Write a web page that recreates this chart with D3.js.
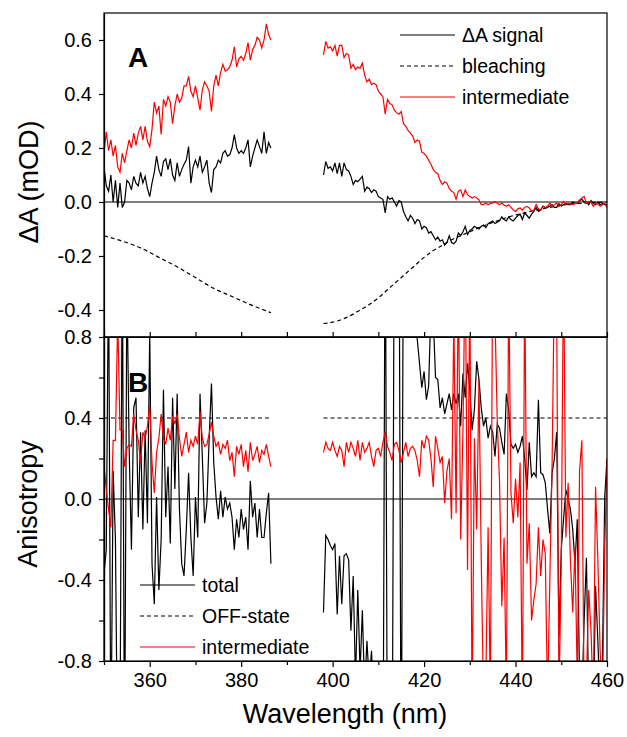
<!DOCTYPE html>
<html lang="en">
<head>
  <meta charset="UTF-8">
  <title>Delta A and anisotropy spectra</title>
  <style>
    body { margin: 0; background: #fff; }
    text { font-family: Arial, "Liberation Sans", sans-serif; }
  </style>
</head>
<body>

  <svg id="svg" width="627" height="737"></svg>

  <script src="https://d3js.org/d3.v7.min.js"></script>
  <script>
    // wavelength grid of the measured spectra (nm)
    const step = 0.5
    const seg1Start = 350   // blue part, 350 - 386.5
    const seg2Start = 398   // red part, 398 - 460

    // panel A: delta A signal (mOD)
    const topBlack1 = [0.13,0.06,0.04,0.10,0.00,0.08,-0.02,0.07,-0.02,0.00,
      0.08,0.07,0.045,0.095,0.07,0.06,0.11,0.07,0.095,0.05,
      0.02,0.07,0.11,0.17,0.12,0.095,0.15,0.16,0.12,0.16,
      0.10,0.08,0.145,0.095,0.12,0.14,0.155,0.205,0.07,0.13,
      0.155,0.13,0.17,0.11,0.13,0.155,0.07,0.035,0.12,0.13,
      0.155,0.145,0.18,0.19,0.17,0.175,0.2,0.25,0.2,0.18,
      0.19,0.18,0.2,0.23,0.13,0.17,0.2,0.23,0.205,0.18,
      0.26,0.18,0.22,0.20]
    const topBlack2 = [0.10,0.15,0.125,0.13,0.115,0.145,0.105,0.145,0.095,0.145,
      0.12,0.115,0.095,0.065,0.08,0.075,0.085,0.095,0.04,0.055,
      0.05,0.035,0.045,0.04,0.02,0.015,0.01,-0.04,0.02,0.01,
      0.015,0.0,-0.015,0.005,0.0,-0.035,-0.055,-0.07,-0.05,-0.06,
      -0.08,-0.065,-0.07,-0.10,-0.09,-0.095,-0.115,-0.11,-0.125,-0.14,
      -0.13,-0.145,-0.14,-0.16,-0.15,-0.125,-0.15,-0.155,-0.145,-0.115,
      -0.125,-0.11,-0.09,-0.12,-0.105,-0.10,-0.09,-0.095,-0.10,-0.09,
      -0.085,-0.095,-0.08,-0.075,-0.07,-0.08,-0.075,-0.07,-0.055,-0.065,
      -0.07,-0.055,-0.065,-0.07,-0.06,-0.05,-0.045,-0.065,-0.04,-0.05,
      -0.06,-0.045,-0.035,-0.02,-0.035,-0.03,-0.015,-0.02,-0.02,-0.015,
      -0.01,-0.02,-0.02,-0.006,-0.015,-0.01,-0.005,-0.01,-0.01,0.0,
      -0.005,-0.005,0.005,0.01,0.0,0.0,-0.01,0.005,-0.005,-0.01,
      0.0,-0.01,-0.005,-0.01,-0.01]
    const topRed1 = [0.18,0.26,0.19,0.23,0.17,0.21,0.13,0.11,0.18,0.145,
      0.19,0.23,0.20,0.255,0.21,0.255,0.28,0.23,0.28,0.225,
      0.205,0.27,0.37,0.33,0.355,0.25,0.38,0.355,0.39,0.37,
      0.29,0.355,0.40,0.37,0.385,0.43,0.43,0.465,0.41,0.39,
      0.43,0.385,0.34,0.415,0.445,0.43,0.41,0.335,0.43,0.47,
      0.43,0.48,0.51,0.485,0.49,0.50,0.525,0.575,0.50,0.53,
      0.54,0.525,0.55,0.59,0.525,0.565,0.58,0.61,0.60,0.57,
      0.60,0.66,0.62,0.60]
    const topRed2 = [0.545,0.595,0.57,0.575,0.56,0.58,0.54,0.58,0.58,0.535,
      0.55,0.545,0.495,0.51,0.49,0.50,0.495,0.515,0.47,0.445,
      0.455,0.435,0.44,0.435,0.41,0.40,0.39,0.325,0.38,0.365,
      0.36,0.34,0.33,0.325,0.335,0.29,0.28,0.265,0.255,0.245,
      0.22,0.23,0.225,0.185,0.18,0.17,0.155,0.14,0.12,0.11,
      0.105,0.08,0.065,0.075,0.07,0.05,0.04,0.035,0.01,0.04,
      0.045,0.02,0.045,0.027,0.02,0.015,0.02,0.015,0.008,-0.01,
      -0.01,-0.004,-0.01,-0.005,-0.004,0.002,-0.005,-0.01,-0.004,-0.012,
      -0.016,-0.01,-0.02,-0.03,-0.035,-0.025,-0.022,-0.03,-0.02,-0.016,
      -0.022,-0.035,-0.03,-0.01,-0.025,-0.03,-0.016,-0.022,-0.015,-0.004,
      -0.016,-0.01,-0.004,-0.016,-0.01,0.002,-0.01,-0.004,-0.008,-0.01,
      -0.006,-0.004,0.008,0.015,0.02,-0.004,0.002,0.0,-0.016,-0.004,
      -0.008,-0.016,-0.01,-0.004,-0.022]
    const bleachWl1 = [350, 354, 358, 362, 366, 370, 374, 378, 382, 386.5]
    const bleach1 = [-0.125, -0.145, -0.17, -0.205, -0.24, -0.28, -0.32, -0.35, -0.38, -0.41]
    const bleachWl2 = [398, 400, 402, 404, 406, 408, 410, 412, 414, 416, 418, 420, 422, 424, 426,
      428, 430, 432, 434, 436, 438, 440, 442, 444, 446, 448, 450, 452, 455, 460]
    const bleach2 = [-0.45, -0.445, -0.435, -0.42, -0.40, -0.38, -0.355, -0.325, -0.295, -0.265,
      -0.235, -0.205, -0.18, -0.16, -0.14, -0.125, -0.11, -0.095, -0.082, -0.07,
      -0.058, -0.048, -0.04, -0.032, -0.025, -0.018, -0.012, -0.008, -0.004, 0.0]

    // panel B: anisotropy
    const botBlack1 = [-0.37,-0.25,1.2,-1.3,0.14,-0.2,-1.4,-1.2,1.3,-1.4,
      1.1,0.25,-0.25,0.45,0.5,-0.09,0.33,-0.15,0.34,-0.12,
      0.83,-0.32,-0.52,0.01,-0.45,-0.2,0.54,-0.09,0.16,-0.22,
      0.5,0.05,0.52,-0.05,-0.32,-0.38,-0.15,0.13,-0.19,-0.38,
      0.01,-0.19,0.52,0.21,-0.12,-0.02,0.3,0.57,0.18,0.01,
      -0.1,0.04,-0.09,0.01,-0.05,-0.02,-0.09,-0.25,-0.1,-0.19,
      -0.05,-0.15,-0.09,-0.25,0.09,-0.09,-0.02,-0.19,-0.05,-0.19,
      -0.19,-0.07,0.03,-0.32]
    const botBlack2 = [-0.56,-0.18,-0.20,-0.23,-0.25,-0.22,-0.57,-0.28,-0.52,-0.28,
      -0.27,-0.30,-0.65,-0.38,-0.9,-0.45,-0.85,-0.55,-0.95,-0.7,
      -0.9,-0.75,-1.0,-1.2,-1.3,-1.3,-1.6,1.6,-1.6,-1.6,
      -1.6,1.6,1.6,1.6,-1.6,1.6,1.6,1.5,1.4,1.2,
      0.95,0.79,0.67,0.55,0.63,0.49,0.56,0.95,0.9,0.6,
      0.59,0.45,0.5,0.42,0.47,0.52,0.44,0.52,0.47,0.52,
      0.36,0.62,0.5,0.67,0.54,0.34,0.44,0.68,0.59,0.45,
      0.36,0.4,0.3,0.36,0.33,0.21,0.37,0.35,0.28,0.22,
      0.52,0.44,0.27,0.25,0.27,0.23,0.26,0.31,0.2,0.045,
      0.28,0.11,0.13,0.11,0.49,0.13,0.12,0.08,-0.05,-0.17,
      0.13,0.2,0.33,-0.68,-0.25,-0.10,0.045,0.0,-0.05,-0.15,
      -0.32,-0.1,-0.9,-1.0,-0.6,-0.29,-1.0,-0.9,-1.1,-0.43,
      -0.7,-1.0,-0.8,0.01,0.2]
    const botRed1 = [0.16,0.05,-0.05,-0.14,0.29,0.29,0.9,0.34,0.34,0.16,
      0.25,0.27,0.26,0.42,0.34,0.29,0.18,0.33,0.30,0.36,
      0.46,0.18,0.03,0.23,0.30,0.42,0.30,0.27,0.35,0.29,
      0.41,0.37,0.42,0.30,0.21,0.27,0.33,0.23,0.29,0.26,
      0.31,0.27,0.43,0.30,0.26,0.27,0.32,0.38,0.31,0.26,
      0.28,0.22,0.27,0.25,0.29,0.19,0.23,0.11,0.26,0.22,
      0.27,0.16,0.24,0.135,0.28,0.19,0.22,0.26,0.18,0.24,
      0.22,0.27,0.21,0.16]
    const botRed2 = [0.23,0.28,0.25,0.24,0.28,0.24,0.21,0.26,0.24,0.16,
      0.28,0.23,0.28,0.25,0.21,0.29,0.19,0.28,0.23,0.25,
      0.28,0.21,0.16,0.24,0.25,0.21,0.28,0.33,0.26,0.23,
      0.19,0.27,0.28,0.24,0.18,0.23,0.28,0.21,0.25,0.26,
      0.24,0.19,0.11,0.29,0.25,0.31,0.29,0.2,0.06,0.31,
      0.25,0.18,0.21,-0.02,0.14,0.2,-0.10,0.9,-0.07,1.1,
      -0.2,0.34,1.2,-0.35,1.1,-1.1,0.3,-0.15,0.59,-0.3,
      -1.0,-0.9,-0.14,-1.0,1.2,0.9,0.39,0.08,-0.53,-0.19,
      -1.0,1.1,0.03,-0.12,0.1,-0.09,0.18,-1.1,1.1,-0.32,
      -0.12,-0.6,-0.5,-0.42,-0.14,-0.38,-0.2,-0.27,-1.0,-0.4,
      0.18,1.1,0.9,-1.0,-0.3,1.2,-0.19,0.08,-0.3,-0.56,
      -0.24,-0.9,0.14,0.29,-1.0,-0.9,-0.45,-0.65,-1.0,0.06,
      -0.3,-0.75,-1.0,-0.25,0.2]
    const offWl1 = [350, 386.5]
    const offWl2 = [398, 460]
    const offState = 0.4

    const topLegend = ['\u0394A signal', 'bleaching', 'intermediate']
    const botLegend = ['total', 'OFF-state', 'intermediate']
    const xMajor = [360, 380, 400, 420, 440, 460]
    const xMinor = [350, 370, 390, 410, 430, 450]
    const topTicks = [-0.4, -0.2, 0.0, 0.2, 0.4, 0.6]
    const botMajor = [-0.8, -0.4, 0.0, 0.4, 0.8]
    const botMinor = [-0.6, -0.2, 0.2, 0.6]

    const series = (start, values) => values.map((v, i) => [start + i * step, v])
    const pairs = (xs, ys) => xs.map((x, i) => [x, ys[i]])

    const svg = d3.select('#svg')
    const left = 104, right = 607
    const xScale = d3.scaleLinear().domain([350, 460]).range([left, right])
    const yTop = d3.scaleLinear().domain([-0.5, 0.7]).range([337, 13])
    const yBot = d3.scaleLinear().domain([-0.8, 0.8]).range([661, 337])

    const defs = svg.append('defs')
    defs.append('clipPath').attr('id', 'clipTop')
      .append('rect').attr('x', left).attr('y', 13).attr('width', right - left).attr('height', 324)
    defs.append('clipPath').attr('id', 'clipBot')
      .append('rect').attr('x', left).attr('y', 337).attr('width', right - left).attr('height', 324)

    const topG = svg.append('g').attr('clip-path', 'url(#clipTop)')
    const botG = svg.append('g').attr('clip-path', 'url(#clipBot)')

    function drawLine(g, y, data, color, dash, curve) {
      const line = d3.line().x(d => xScale(d[0])).y(d => y(d[1]))
      if (curve) line.curve(curve)
      g.append('path')
        .attr('d', line(data))
        .attr('fill', 'none')
        .attr('stroke', color)
        .attr('stroke-width', 1.2)
        .attr('stroke-dasharray', dash)
    }

    // zero lines
    drawLine(topG, yTop, [[350, 0], [460, 0]], '#000', null)
    drawLine(botG, yBot, [[350, 0], [460, 0]], '#000', null)

    // panel A
    drawLine(topG, yTop, series(seg1Start, topBlack1), '#000', null)
    drawLine(topG, yTop, series(seg2Start, topBlack2), '#000', null)
    drawLine(topG, yTop, pairs(bleachWl1, bleach1), '#000', '4,3', d3.curveMonotoneX)
    drawLine(topG, yTop, pairs(bleachWl2, bleach2), '#000', '4,3', d3.curveMonotoneX)
    drawLine(topG, yTop, series(seg1Start, topRed1), '#ff0000', null)
    drawLine(topG, yTop, series(seg2Start, topRed2), '#ff0000', null)

    // panel B
    drawLine(botG, yBot, series(seg1Start, botBlack1), '#000', null)
    drawLine(botG, yBot, series(seg2Start, botBlack2), '#000', null)
    drawLine(botG, yBot, offWl1.map(w => [w, offState]), '#000', '4,3')
    drawLine(botG, yBot, offWl2.map(w => [w, offState]), '#000', '4,3')
    drawLine(botG, yBot, series(seg1Start, botRed1), '#ff0000', null)
    drawLine(botG, yBot, series(seg2Start, botRed2), '#ff0000', null)

    // frames
    svg.append('rect').attr('x', left).attr('y', 13).attr('width', right - left).attr('height', 324)
      .attr('fill', 'none').attr('stroke', '#000').attr('stroke-width', 1.2)
    svg.append('rect').attr('x', left).attr('y', 337).attr('width', right - left).attr('height', 324)
      .attr('fill', 'none').attr('stroke', '#000').attr('stroke-width', 1.2)

    const fmt = d => d.toFixed(1)
    function styleAxis(g) {
      g.selectAll('path, line').attr('stroke', '#000').attr('stroke-width', 1.2)
      g.selectAll('text').style('font-size', '20px').attr('fill', '#000')
        .style('font-family', 'Arial, "Liberation Sans", sans-serif')
    }

    // y axes
    svg.append('g').attr('transform', `translate(${left},0)`)
      .call(d3.axisLeft(yTop).tickValues(topTicks).tickFormat(fmt).tickSize(5).tickSizeOuter(0).tickPadding(7))
      .call(styleAxis)
    svg.append('g').attr('transform', `translate(${left},0)`)
      .call(d3.axisLeft(yBot).tickValues(botMinor).tickFormat('').tickSize(5).tickSizeOuter(0))
      .call(styleAxis)
    svg.append('g').attr('transform', `translate(${left},0)`)
      .call(d3.axisLeft(yBot).tickValues(botMajor).tickFormat(fmt).tickSize(5).tickSizeOuter(0).tickPadding(7))
      .call(styleAxis)

    // x axes: inner ticks of panel A, outer ticks of panel B
    svg.append('g').attr('transform', 'translate(0,337)')
      .call(d3.axisTop(xScale).tickValues(xMajor.concat(xMinor)).tickFormat('').tickSize(5).tickSizeOuter(0))
      .call(styleAxis)
    svg.append('g').attr('transform', 'translate(0,661)')
      .call(d3.axisBottom(xScale).tickValues(xMinor).tickFormat('').tickSize(4).tickSizeOuter(0))
      .call(styleAxis)
    svg.append('g').attr('transform', 'translate(0,661)')
      .call(d3.axisBottom(xScale).tickValues(xMajor).tickFormat(d => d).tickSize(6).tickSizeOuter(0).tickPadding(6))
      .call(styleAxis)

    // axis titles
    svg.append('text').attr('x', 345).attr('y', 723).attr('text-anchor', 'middle')
      .style('font-size', '27px').text('Wavelength (nm)')
    svg.append('text').attr('transform', 'translate(38,182) rotate(-90)').attr('text-anchor', 'middle')
      .style('font-size', '27px').text('\u0394A (mOD)')
    svg.append('text').attr('transform', 'translate(37,504) rotate(-90)').attr('text-anchor', 'middle')
      .style('font-size', '27px').text('Anisotropy')

    // panel letters
    svg.append('text').attr('x', 128).attr('y', 67).style('font-size', '28px').style('font-weight', 'bold').text('A')
    svg.append('text').attr('x', 128).attr('y', 392).style('font-size', '28px').style('font-weight', 'bold').text('B')

    // legends
    const legendStyles = [
      { color: '#000', dash: null },
      { color: '#000', dash: '4,3' },
      { color: '#ff0000', dash: null }
    ]
    function legend(labels, x0, y0, gap) {
      labels.forEach((label, i) => {
        const y = y0 + i * gap
        svg.append('line').attr('x1', x0).attr('x2', x0 + 55).attr('y1', y).attr('y2', y)
          .attr('stroke', legendStyles[i].color).attr('stroke-width', 1.2)
          .attr('stroke-dasharray', legendStyles[i].dash)
        svg.append('text').attr('x', x0 + 62).attr('y', y + 7)
          .style('font-size', '19.5px').text(label)
      })
    }
    legend(topLegend, 400, 35, 31)
    legend(botLegend, 140, 585, 31)
  </script>
</body>
</html>
